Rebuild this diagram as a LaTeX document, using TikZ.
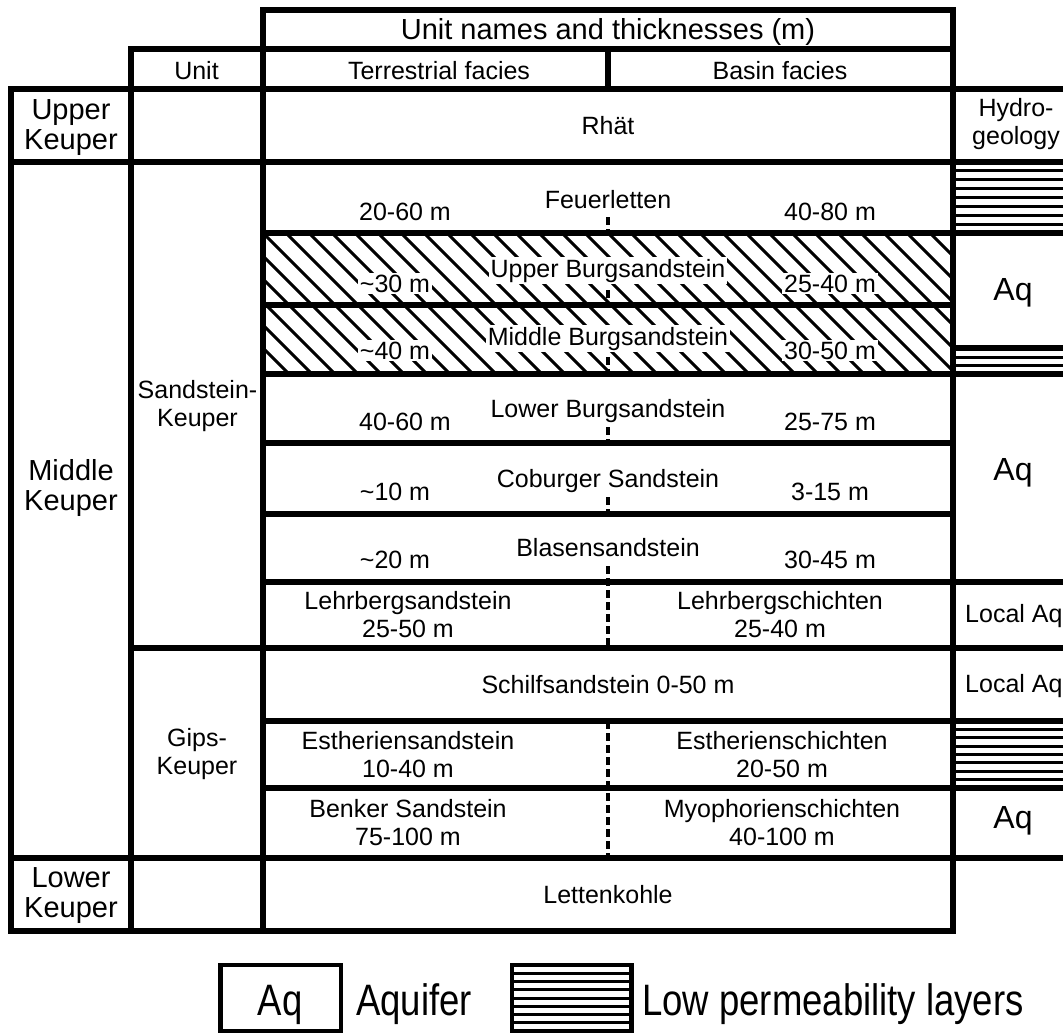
\documentclass[tikz,border=0pt]{standalone}
\usepackage{fontspec}
\setmainfont{Liberation Sans}
\newfontfamily\narrowsans[FakeStretch=0.83]{Liberation Sans}
\usetikzlibrary{calc}

\begin{document}
\begin{tikzpicture}[x=1pt,y=-1pt,
	tabline/.style={line width=6pt, line cap=rect},
	hatch/.style={line width=3pt},
	stripe/.style={line width=3pt},
	faciesline/.style={line width=4pt, dash pattern=on 8pt off 4pt},
	txt/.style={font=\fontsize{25}{28}\selectfont, inner sep=0pt, align=center},
	big/.style={font=\fontsize{29}{30}\selectfont, inner sep=0pt, align=center},
	aqtxt/.style={font=\fontsize{32}{34}\selectfont, inner sep=0pt},
	legendtxt/.style={font=\narrowsans\fontsize{44}{46}\selectfont, inner sep=0pt},
	knockout/.style={fill=white, inner sep=2pt}]
		\useasboundingbox (0,0) rectangle (1063,1034);
		\fill[white] (0,0) rectangle (1063,1034);

		% hatched Burgsandstein beds
		\begin{scope}
			\clip (263,233) rectangle (953,374);
			\foreach \x in {125,148,...,953}
				\draw[hatch] (\x,233) -- ++(141,141);
		\end{scope}

		% low permeability layers in the hydrogeology column
		\foreach \k in {1,...,7}{%
			\draw[stripe] (953,{162+\k*71/8}) -- (1070,{162+\k*71/8});
			\draw[stripe] (953,{721+\k*67/8}) -- (1070,{721+\k*67/8});
		}
		\draw[stripe] (953,357.5) -- (1070,357.5);
		\draw[stripe] (953,365.5) -- (1070,365.5);

		% table frame
		\foreach \x/\ya/\yb in {263/10/931, 953/10/931, 131/49/931, 11/89/931, 608/49/89}
			\draw[tabline] (\x,\ya) -- (\x,\yb);
		\foreach \y/\xa/\xb in {10/263/953, 49/131/953, 89/11/1070, 162/11/1070,
			233/263/1070, 305/263/953, 348/953/1070, 374/263/1070, 443/263/953,
			514/263/953, 582/263/1070, 648/131/1070, 721/263/1070, 788/263/1070,
			858/11/1070, 931/11/953}
			\draw[tabline] (\xa,\y) -- (\xb,\y);

		% boundary between terrestrial and basin facies
		\foreach \ya/\yb in {217/233, 290/305, 357/374, 427/443, 497/514, 566/648, 721/858}
			\draw[faciesline] (608,\ya) -- (608,\yb);

		% headings
		\node[big, anchor=base] (title) at (608,39.5) {Unit names and thicknesses (m)};
		\node[txt, anchor=base] (unitlbl) at (196.5,79) {Unit};
		\node[txt, anchor=base] (terr) at (439,79) {Terrestrial facies};
		\node[txt, anchor=base] (basin) at (780,79) {Basin facies};
		\node[txt] (hydro) at (1016,124.5) {Hydro-\\geology};

		% stratigraphic units
		\node[big] (upperk) at (71,127.5) {Upper\\Keuper};
		\node[big] (middlek) at (71,487.5) {Middle\\Keuper};
		\node[big] (lowerk) at (71,895.5) {Lower\\Keuper};
		\node[txt] (sandk) at (197.5,406.5) {Sandstein-\\Keuper};
		\node[txt] (gipsk) at (197,754.5) {Gips-\\Keuper};

		% formations
		\node[txt, anchor=base] (rhaet) at (608,134.5) {Rhät};
		\node[txt, anchor=base] (feuer) at (608,208) {Feuerletten};
		\node[txt, anchor=base] (feuerT) at (405,220) {20-60 m};
		\node[txt, anchor=base] (feuerB) at (830,220) {40-80 m};
		\node[txt, knockout, anchor=base] (ubs) at (608,277) {Upper Burgsandstein};
		\node[txt, knockout, anchor=base] (ubsT) at (395,292) {\textasciitilde 30 m};
		\node[txt, knockout, anchor=base] (ubsB) at (830,292) {25-40 m};
		\node[txt, knockout, anchor=base] (mbs) at (608,345) {Middle Burgsandstein};
		\node[txt, knockout, anchor=base] (mbsT) at (395,359) {\textasciitilde 40 m};
		\node[txt, knockout, anchor=base] (mbsB) at (830,359) {30-50 m};
		\node[txt, anchor=base] (lbs) at (608,417) {Lower Burgsandstein};
		\node[txt, anchor=base] (lbsT) at (405,430) {40-60 m};
		\node[txt, anchor=base] (lbsB) at (830,430) {25-75 m};
		\node[txt, anchor=base] (cob) at (608,487) {Coburger Sandstein};
		\node[txt, anchor=base] (cobT) at (395,500) {\textasciitilde 10 m};
		\node[txt, anchor=base] (cobB) at (830,500) {3-15 m};
		\node[txt, anchor=base] (blas) at (608,556) {Blasensandstein};
		\node[txt, anchor=base] (blasT) at (395,568) {\textasciitilde 20 m};
		\node[txt, anchor=base] (blasB) at (830,568) {30-45 m};
		\node[txt] (lehrT) at (408,615) {Lehrbergsandstein\\25-50 m};
		\node[txt] (lehrB) at (780,615) {Lehrbergschichten\\25-40 m};
		\node[txt, anchor=base] (schilf) at (608,693) {Schilfsandstein 0-50 m};
		\node[txt] (estT) at (408,754.5) {Estheriensandstein\\10-40 m};
		\node[txt] (estB) at (782,754.5) {Estherienschichten\\20-50 m};
		\node[txt] (benkT) at (408,823) {Benker Sandstein\\75-100 m};
		\node[txt] (myoB) at (782,823) {Myophorienschichten\\40-100 m};
		\node[txt, anchor=base] (letten) at (608,903) {Lettenkohle};

		% hydrogeology
		\node[aqtxt, anchor=base] (aqA) at (1013,300) {Aq};
		\node[aqtxt, anchor=base] (aqB) at (1013,480) {Aq};
		\node[txt, anchor=base west] (localA) at (965,622) {Local Aq};
		\node[txt, anchor=base west] (localB) at (965,692) {Local Aq};
		\node[aqtxt, anchor=base] (aqC) at (1013,828) {Aq};

		% legend
		\draw[line width=4.5pt] (220.5,965) rectangle (341,1031);
		\node[legendtxt, anchor=base] (legaq) at (280,1015) {Aq};
		\node[legendtxt, anchor=base west] (legaqtxt) at (356,1015) {Aquifer};
		\draw[line width=4.5pt] (512,965) rectangle (631.5,1031);
		\foreach \k in {1,...,7}
			\draw[stripe] (512,{965+\k*66/8}) -- (631.5,{965+\k*66/8});
		\node[legendtxt, anchor=base west] (leglow) at (642,1015) {Low permeability layers};
\end{tikzpicture}
\end{document}
